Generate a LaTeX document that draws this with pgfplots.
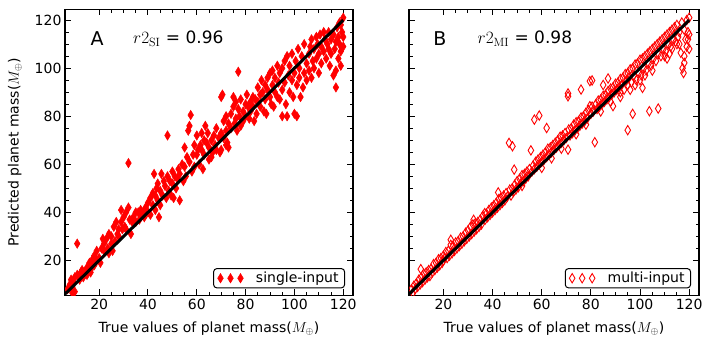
\documentclass[border=0pt]{standalone}
\usepackage[no-math]{fontspec}
\setmainfont{DejaVu Sans}
\usepackage{pgfplots}
\pgfplotsset{compat=1.18}
\definecolor{mred}{RGB}{255,0,0}
\newcommand{\tickfont}{\fontsize{14}{16}\selectfont}
\newcommand{\labfont}{\fontsize{14}{16}\selectfont}
\newcommand{\rfont}{\fontsize{17}{19}\selectfont}

\pgfplotsset{
  panel/.style={
    scale only axis,
    height=286pt,
    xmin=6, xmax=124, ymin=5.5, ymax=124.5,
    xtick={20,40,...,120}, ytick={20,40,...,120},
    minor tick num=3,
    tick align=inside, tick pos=both,
    major tick length=6pt, minor tick length=3.5pt,
    every tick/.style={black, line width=1pt},
    axis line style={line width=1.2pt},
    tick label style={font=\tickfont},
    /pgf/number format/assume math mode=true,
    clip marker paths=true,
    xlabel style={font=\labfont, at={(axis description cs:0.5,-0.115)}, anchor=center},
    ylabel style={font=\labfont, at={(axis description cs:-0.174,0.5)}, anchor=center},
    legend style={at={(1,0)}, anchor=south east, xshift=-8pt, yshift=7pt,
      rounded corners=3pt, draw=black, line width=1pt, font=\labfont,
      inner xsep=4pt, inner ysep=1.5pt},
    legend cell align=left,
    legend image code/.code={%
      \draw[mark repeat=1,#1] plot coordinates {(0pt,0pt) (10pt,0pt) (20pt,0pt)};
      \path (-2pt,0pt) (33pt,0pt);},
    xlabel={True values of planet mass($M_\oplus$)},
  },
}

\begin{document}
\begin{tikzpicture}
\useasboundingbox (0,0) rectangle (709pt,348pt);

% panel A: single-input
\begin{axis}[panel, width=288pt, at={(65pt,52.7pt)}, anchor=south west,
  ylabel={Predicted planet mass($M_\oplus$)}]
\addplot[only marks, color=mred, mark=diamond*, mark size=4.7pt,
  mark options={xscale=0.8, fill=mred, draw=mred, line width=0.5pt}] coordinates {
(7,8) (8,10) (8.5,12) (9,9) (9.5,11) (10,13) (10,7) (11,27) (11,14) (12,12)
(12.5,15) (13,16) (13.5,13) (14,15) (15,17) (15,14) (9,6.5)
(16,19) (16.5,15) (17,20) (17,17) (18,22) (18,18) (19,24) (19,20) (20,21)
(20.5,19) (21,25) (21.5,29) (22,24) (22,27) (23,29) (23.5,25) (24,31) (24,23)
(25,27) (25,30) (25.5,24)
(26,34) (26.5,28) (27,36) (27.5,31) (28,33) (28,30) (29,41) (29,36) (29.5,33)
(30,38) (30.5,34) (31,33) (31,40) (32,60.5) (32,42) (32.5,37) (33,31) (33.5,36)
(34,38) (35,40) (35,36)
(36,40) (36.5,37) (37,41) (37.5,39) (38,40) (38.5,38) (39,42) (40,44) (40,40)
(41,46) (41,39) (42,48) (42,43) (42.5,56) (43,47) (43,41) (43.5,50) (44,45)
(44,52) (45,49) (45,43) (45.5,56) (44.5,38)
(46,47) (46.5,53) (47,51) (47.5,46) (48,72) (48,55) (48.5,49) (49,53) (49.5,47)
(50,52) (50,57) (50.5,46) (51,55) (51.5,50) (52,54) (52.5,58) (53,45) (53,56)
(54,60) (54.5,53) (55,67) (55,59)
(55.5,55) (56,63) (56.5,74) (57,76) (57.5,80.5) (57,61) (58,57) (58.5,64) (59,68)
(59,59) (60,64) (60,72) (60.5,66) (61,60) (61.5,68) (62,73) (62,66) (62.5,58)
(63,70) (63,64) (63.5,76) (64,69) (64.5,73) (65,67) (65,62)
(66,70) (66.5,65) (67,72) (67.5,68) (68,75) (68,66) (69,71) (69.5,65) (70,73)
(70,88) (70.5,89) (71,78) (71,71) (72,80) (72,74) (72.5,69) (73,67) (73,77)
(74,81) (74,75) (75,84) (75,88) (75.5,77) (66,63) (70,66) (72,68)
(76,86) (76,79) (76.5,74) (77,98.5) (77,83) (77.5,80) (78,76) (78,87) (79,82)
(79,78) (80,85) (80,80) (80.5,89) (81,84) (81.5,79) (82,86) (82,82) (83,88)
(83,84) (83.5,78) (84,87) (84.5,81) (85,86) (85,92)
(86,89) (86,84) (86.5,95) (87,90) (87.5,82) (88,93) (88,87) (88.5,81) (89,96)
(89,91) (90,98) (90,88) (90.5,85) (91,93) (91,99) (91.5,84) (92,96) (92,90)
(93,88) (93,101) (93.5,94) (94,87) (94,98) (95,80) (95,91) (95,100)
(96,103) (96,94) (96.5,85) (97,80) (97,105) (97.5,97) (98,90) (98,101) (99,95)
(99,106) (99.5,88) (100,81) (100,98) (100.5,103) (101,80) (101,93) (101.5,108)
(102,100) (102,96) (102.5,88) (103,105) (103.5,92) (104,98) (104,110) (105,102)
(105,95)
(106,106) (106,99) (106.5,109) (107,112) (107,96) (107.5,103) (108,108) (108,100)
(109,113) (109,104) (109.5,110) (110,106) (110,98) (110.5,114) (111,109) (111,102)
(112,115) (112,107) (112.5,112) (113,104) (113.5,110) (114,108) (114,115)
(114.5,101) (115,112) (115,106)
(116,97) (116,114) (116.5,108) (117,92) (117,99) (117,111) (117.5,117) (118,104)
(118,113) (118.5,119) (118.5,110) (119,118) (119,107) (119.5,115) (120,113)
(120,109) (120,121) (119,101)
};
\addlegendentry{single-input}
\addplot[black, line width=3pt, forget plot] coordinates {(5,5) (120,120)};
\node at (axis cs:19.2,112.2) {\fontsize{19}{21}\selectfont A};
\node[anchor=west] at (axis cs:32.5,112.2) {\rfont$r2_{\mathrm{SI}}$ = 0.96};
\end{axis}

% panel B: multi-input
\begin{axis}[panel, width=290pt, at={(409pt,52.7pt)}, anchor=south west,
  yticklabels={}]
\addplot[only marks, color=mred, mark=diamond, mark size=4.7pt,
  mark options={xscale=0.8, draw=mred, fill=none, line width=0.9pt}] coordinates {
(7,8) (7.5,6.5) (8,9.5) (8.5,8) (9,10.5) (9.5,9) (10,12) (10.5,10) (10.8,16.4)
(11,13) (11.5,11) (12,14.5) (12.5,12) (13,15) (13.5,13) (14,16) (14.5,13.5)
(15,16.5) (15.5,15) (16,18.5) (16.5,16) (17,19) (17.5,17) (18,20.5) (18.5,18)
(19,21) (19.5,19) (20,22) (20,20)
(20.5,21) (21,23.5) (21.5,21) (22,24) (22.5,22) (23,28.6) (23,26.5) (23.5,23)
(24,26) (24.5,24) (25,27.5) (25.5,25) (26,28) (26.5,26) (27,29.5) (27.5,27)
(28,30) (28.5,28) (29,31.5) (29.5,29) (30,32.5) (30.5,30) (31,34) (31.5,31)
(32,35) (32.3,36.9) (32.5,32) (33,35.5) (33.5,33) (34,36) (34.5,34) (35,37)
(35.5,35) (36,38.5) (36.8,39.7) (37,37) (37.5,39.5) (38,38) (38.5,41) (39,39)
(39.5,42) (40,40) (40.5,43) (41,41) (41.5,44) (42,42) (42.3,48.3) (42.5,45.5)
(43,43) (43.5,46) (44,44) (44.5,47) (45,45) (45.5,48) (46,46.5) (46.7,68.9)
(47,49.5) (47.5,47) (48,50) (48.1,67.5) (48.5,48.5) (48.8,57.8) (49,51.5)
(49.5,49.5) (50,53)
(50.5,50.5) (51,54) (51.5,52) (52,55.5) (52.5,53) (53,56) (53.5,54) (54,57)
(54.5,55) (55,58) (55.6,65.8) (56,57) (56.5,59.5) (57,78.6) (57,58) (57.5,61)
(58,59) (58.5,62) (59,80.3) (59,60) (59.5,63) (60,61) (60.5,64) (61,62)
(61.5,65) (62,75.1) (62,63) (62.5,66.5) (63,64) (63.5,67) (64,65) (64.5,68)
(65,66) (60,58.5) (64,62.5) (52,51)
(65.5,69) (66,67) (66.5,70) (67,68) (67.5,71.5) (68,69) (68.5,72) (69,70)
(69.5,73) (70,71) (70.7,88.3) (70.7,89.5) (70.7,66.1) (71,74.5) (71.5,72)
(72,75) (72.5,73) (73,76.5) (73.5,74) (74,77.5) (74.5,75) (75,78) (75.5,76)
(76,91.1) (76,79.5) (76.5,77) (77,80) (77.5,78) (78,81.5) (78.5,79) (79,82.5)
(79.6,84.2) (79.6,94.6) (80,81) (80.5,94.9) (68,66.5) (74,72.5) (78,76.5)
(80.5,84) (81,82) (81.6,69.2) (82,85) (82.5,83) (83,86.5) (83.5,84) (84,87)
(84.5,85) (85,88.5) (85.5,86) (86,89) (86.5,87) (87,95.7) (87,90.5) (87.5,88)
(88,91.5) (88.5,89) (89,84.2) (89,92) (89.5,90) (90,93.5) (90.5,91) (91,94)
(91.5,92) (92,88) (92,95.5) (92.5,93) (93,96) (93.5,91) (94,97.5) (94.5,95)
(95,74.2) (95,98) (95,93) (84,82) (88,86) (92,90) (85,93)
(95.5,96) (96,99.5) (96.5,94) (97,81) (97,100) (97.5,97) (98,101.5) (98.5,95)
(99,102) (99.5,98) (100,103.5) (100.5,97) (101,91.8) (101,104) (101.5,100)
(102,105) (102.5,99) (103,106) (103.5,102) (103.8,82.1) (104,107) (104.5,101)
(105,108) (105.5,104) (106,109) (106.5,103) (107,110) (107.4,83.2) (107.5,106)
(108,111) (108.5,105) (109,112) (109.5,108) (110,113) (98,93) (102,97)
(105,99) (100,95) (96,91)
(110.5,107) (111,114) (111.5,110) (112,115) (112.5,109) (113,116) (113.5,112)
(114,117) (114.5,111) (115,118) (115.5,113) (116,115) (116.6,106.4) (117,119)
(117.3,100) (117.7,98) (118,102.2) (118,116) (118.5,112) (119,120) (119,109)
(119.5,115) (120,121) (120,114) (120,108) (113,108) (111,104) (116,110)
(118,105) (119.5,112) (112,106) (115,110) (110,105)
};
\addlegendentry{multi-input}
\addplot[black, line width=3pt, forget plot] coordinates {(5,5) (120,120)};
\node at (axis cs:18.6,112.2) {\fontsize{19}{21}\selectfont B};
\node[anchor=west] at (axis cs:32.5,112.2) {\rfont$r2_{\mathrm{MI}}$ = 0.98};
\end{axis}
\end{tikzpicture}
\end{document}
